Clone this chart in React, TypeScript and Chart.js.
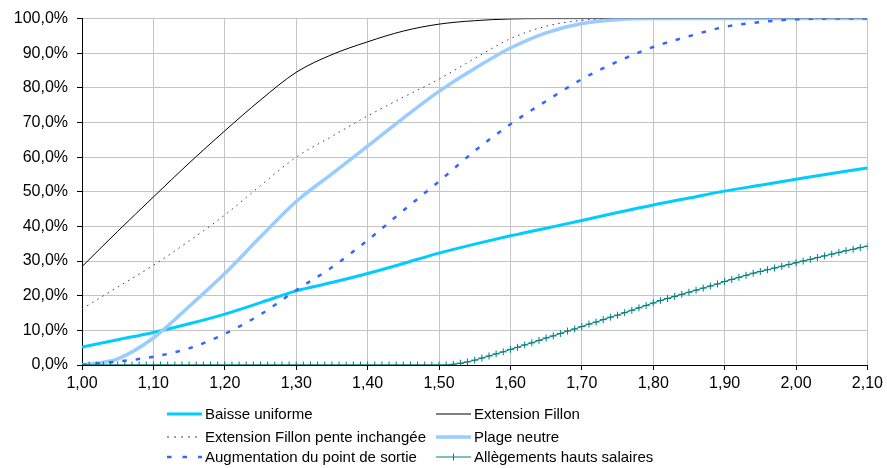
import React, { useEffect, useRef } from 'react';
import { Chart, registerables } from 'chart.js';

Chart.register(...registerables);

// x positions (0.05 step) for the smooth series
const xCoarse = [1.0, 1.05, 1.1, 1.15, 1.2, 1.25, 1.3, 1.35, 1.4, 1.45, 1.5, 1.55, 1.6, 1.65, 1.7, 1.75, 1.8, 1.85, 1.9, 1.95, 2.0, 2.05, 2.1];

const baisseUniforme = [5.2, 7.3, 9.4, 11.9, 14.7, 18.0, 21.4, 23.8, 26.4, 29.3, 32.3, 34.9, 37.3, 39.5, 41.7, 44.0, 46.2, 48.2, 50.2, 51.9, 53.6, 55.3, 56.9];
const extensionFillon = [28.4, 38.6, 48.5, 58.3, 67.6, 76.5, 84.5, 89.6, 93.3, 96.4, 98.4, 99.4, 99.9, 100, 100, 100, 100, 100, 100, 100, 100, 100, 100];
const extensionPente = [16.2, 22.5, 28.8, 35.8, 43.3, 51.8, 60.0, 66.0, 71.9, 77.3, 82.5, 88.5, 94.2, 97.8, 99.5, 100, 100, 100, 100, 100, 100, 100, 100];
const plageNeutre = [0.0, 1.8, 7.8, 16.9, 26.4, 37.0, 47.2, 55.2, 63.2, 71.3, 79.0, 85.6, 91.5, 95.9, 98.6, 99.7, 100, 100, 100, 100, 100, 100, 100];
const augmentation = [0.0, 1.0, 2.4, 4.8, 9.0, 14.6, 21.6, 28.2, 36.0, 44.6, 53.0, 61.8, 69.5, 76.2, 82.5, 87.6, 91.8, 94.9, 97.6, 99.0, 99.8, 100, 100];

// x positions (0.01 step) for the marked series
const xFine = [
  1.0, 1.01, 1.02, 1.03, 1.04, 1.05, 1.06, 1.07, 1.08, 1.09,
  1.1, 1.11, 1.12, 1.13, 1.14, 1.15, 1.16, 1.17, 1.18, 1.19,
  1.2, 1.21, 1.22, 1.23, 1.24, 1.25, 1.26, 1.27, 1.28, 1.29,
  1.3, 1.31, 1.32, 1.33, 1.34, 1.35, 1.36, 1.37, 1.38, 1.39,
  1.4, 1.41, 1.42, 1.43, 1.44, 1.45, 1.46, 1.47, 1.48, 1.49,
  1.5, 1.51, 1.52, 1.53, 1.54, 1.55, 1.56, 1.57, 1.58, 1.59,
  1.6, 1.61, 1.62, 1.63, 1.64, 1.65, 1.66, 1.67, 1.68, 1.69,
  1.7, 1.71, 1.72, 1.73, 1.74, 1.75, 1.76, 1.77, 1.78, 1.79,
  1.8, 1.81, 1.82, 1.83, 1.84, 1.85, 1.86, 1.87, 1.88, 1.89,
  1.9, 1.91, 1.92, 1.93, 1.94, 1.95, 1.96, 1.97, 1.98, 1.99,
  2.0, 2.01, 2.02, 2.03, 2.04, 2.05, 2.06, 2.07, 2.08, 2.09,
  2.1,
];
const allegements = [
  0, 0, 0, 0, 0, 0, 0, 0, 0, 0,
  0, 0, 0, 0, 0, 0, 0, 0, 0, 0,
  0, 0, 0, 0, 0, 0, 0, 0, 0, 0,
  0, 0, 0, 0, 0, 0, 0, 0, 0, 0,
  0, 0, 0, 0, 0, 0, 0, 0, 0, 0,
  0, 0, 0.2, 0.5, 0.9, 1.4, 2.0, 2.6, 3.2, 3.8,
  4.5, 5.1, 5.8, 6.4, 7.1, 7.8, 8.4, 9.1, 9.8, 10.4,
  11.1, 11.8, 12.4, 13.1, 13.8, 14.4, 15.1, 15.8, 16.5, 17.2,
  17.9, 18.6, 19.2, 19.8, 20.4, 21.0, 21.6, 22.2, 22.8, 23.4,
  24.1, 24.7, 25.3, 25.9, 26.5, 27.0, 27.5, 28.0, 28.5, 29.0,
  29.5, 30.0, 30.5, 31.0, 31.5, 32.0, 32.5, 33.0, 33.4, 33.9,
  34.3,
];

const xTickMin = 1.0;
const xTickMax = 2.1;
const xTickStep = 0.1;
const yTickMin = 0;
const yTickMax = 100;
const yTickStep = 10;

const seriesNames = [
  'Baisse uniforme',
  'Extension Fillon',
  'Extension Fillon pente inchangée',
  'Plage neutre',
  'Augmentation du point de sortie',
  'Allègements hauts salaires',
];

const FONT = '"Liberation Sans", Arial, sans-serif';

const pts = (xs: number[], ys: number[]) => xs.map((x, i) => ({ x, y: ys[i] }));

function LegendSample({ kind }: { kind: number }) {
  const w = 35;
  const h = 10;
  const y = 5;
  let el: any = null;
  if (kind === 0) el = <line x1={0} y1={y} x2={w} y2={y} stroke="#00ccff" strokeWidth={3} />;
  if (kind === 1) el = <line x1={0} y1={y} x2={w} y2={y} stroke="#000000" strokeWidth={1} />;
  if (kind === 2) el = <line x1={0} y1={y} x2={w} y2={y} stroke="#333399" strokeWidth={1} strokeDasharray="2 5" />;
  if (kind === 3) el = <line x1={0} y1={y} x2={w} y2={y} stroke="#99ccff" strokeWidth={3.5} />;
  if (kind === 4) el = <line x1={0} y1={y} x2={w} y2={y} stroke="#3366ff" strokeWidth={2.5} strokeDasharray="4.5 11" />;
  if (kind === 5)
    el = (
      <g stroke="#008080" strokeWidth={1}>
        <line x1={0} y1={y} x2={w} y2={y} />
        <line x1={w / 2} y1={y - 3.5} x2={w / 2} y2={y + 3.5} />
      </g>
    );
  return (
    <svg width={w} height={h} style={{ display: 'block' }}>
      {el}
    </svg>
  );
}

export default function App() {
  const ref = useRef<HTMLCanvasElement | null>(null);

  useEffect(() => {
    if (!ref.current) return;
    const chart = new Chart(ref.current, {
      type: 'line',
      data: {
        datasets: [
          {
            label: seriesNames[5],
            data: pts(xFine, allegements),
            borderColor: '#008080',
            borderWidth: 1,
            pointStyle: 'cross',
            pointRadius: 3.5,
            pointBorderColor: '#008080',
            pointBackgroundColor: '#008080',
            pointBorderWidth: 1,
            tension: 0,
          },
          {
            label: seriesNames[4],
            data: pts(xCoarse, augmentation),
            borderColor: '#3366ff',
            borderWidth: 2.5,
            borderDash: [4.5, 9],
            pointRadius: 0,
            cubicInterpolationMode: 'monotone',
          },
          {
            label: seriesNames[3],
            data: pts(xCoarse, plageNeutre),
            borderColor: '#99ccff',
            borderWidth: 3.5,
            pointRadius: 0,
            cubicInterpolationMode: 'monotone',
          },
          {
            label: seriesNames[2],
            data: pts(xCoarse, extensionPente),
            borderColor: '#333399',
            borderWidth: 1,
            borderDash: [1.5, 4.5],
            pointRadius: 0,
            cubicInterpolationMode: 'monotone',
          },
          {
            label: seriesNames[1],
            data: pts(xCoarse, extensionFillon),
            borderColor: '#000000',
            borderWidth: 1,
            pointRadius: 0,
            cubicInterpolationMode: 'monotone',
          },
          {
            label: seriesNames[0],
            data: pts(xCoarse, baisseUniforme),
            borderColor: '#00ccff',
            borderWidth: 3,
            pointRadius: 0,
            cubicInterpolationMode: 'monotone',
          },
        ],
      },
      options: {
        responsive: false,
        maintainAspectRatio: false,
        animation: false,
        layout: { padding: { top: 18, right: 19, left: 0, bottom: 0 } },
        plugins: { legend: { display: false }, tooltip: { enabled: false } },
        scales: {
          x: {
            type: 'linear',
            min: xTickMin,
            max: xTickMax,
            ticks: {
              stepSize: xTickStep,
              autoSkip: false,
              maxRotation: 0,
              color: '#000',
              padding: 4,
              font: { family: FONT, size: 16 },
              callback: (v: any) => Number(v).toFixed(2).replace('.', ','),
            },
            grid: { color: '#c4c4c4', lineWidth: 1, tickColor: '#000', tickLength: 5 },
            border: { color: '#000', width: 1 },
            afterFit: (s: any) => {
              s.height = 103;
            },
          },
          y: {
            type: 'linear',
            min: yTickMin,
            max: yTickMax,
            ticks: {
              stepSize: yTickStep,
              color: '#000',
              padding: 9,
              font: { family: FONT, size: 16 },
              callback: (v: any) => Number(v).toFixed(1).replace('.', ',') + '%',
            },
            grid: { color: '#c4c4c4', lineWidth: 1, tickColor: '#000', tickLength: 5 },
            border: { color: '#000', width: 1 },
            afterFit: (s: any) => {
              s.width = 82;
            },
          },
        },
      },
    } as any);
    return () => chart.destroy();
  }, []);

  const rows = [414, 437, 457];
  const cols = [
    { line: 167, text: 205 },
    { line: 436, text: 474 },
  ];
  const items = seriesNames.map((name, i) => ({ name, i, col: cols[i % 2], row: rows[Math.floor(i / 2)] }));

  return (
    <div style={{ position: 'absolute', left: 0, top: 0, width: 887, height: 468, background: '#fff', overflow: 'hidden' }}>
      <canvas ref={ref} width={887} height={468} style={{ position: 'absolute', left: 0, top: 0 }} />
      {items.map((it) => (
        <React.Fragment key={it.i}>
          <div style={{ position: 'absolute', left: it.col.line, top: it.row - 5 }}>
            <LegendSample kind={it.i} />
          </div>
          <div
            style={{
              position: 'absolute',
              left: it.col.text,
              top: it.row - 9,
              height: 18,
              lineHeight: '18px',
              fontFamily: FONT,
              fontSize: 15,
              color: '#000',
              whiteSpace: 'nowrap',
            }}
          >
            {it.name}
          </div>
        </React.Fragment>
      ))}
    </div>
  );
}
